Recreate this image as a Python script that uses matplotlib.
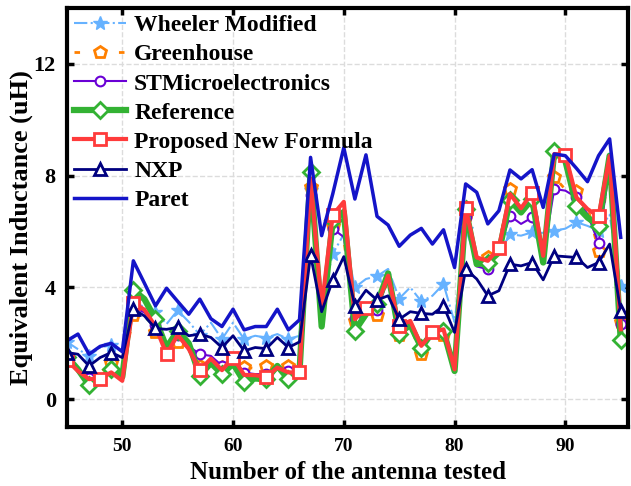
import numpy as np
import matplotlib
matplotlib.use('Agg')
import matplotlib.pyplot as plt

plt.rcParams['font.family'] = ['Liberation Serif', 'DejaVu Serif']
plt.rcParams['font.weight'] = 'bold'

# antenna numbers 45..95
antenna = list(range(45, 96))

wheeler = [2.05, 1.79, 1.55, 1.85, 1.93, 1.73, 3.47, 3.3, 3.13, 2.69, 3.18, 2.77, 2.3, 2.74, 2.15, 2.74,
           2.15, 2.27, 2.2, 2.33, 2.15, 2.27, 7.5, 3.5, 5.2, 5.9, 4.0, 4.3, 4.4, 4.66, 3.6, 4.0,
           3.5, 3.7, 4.12, 2.76, 6.1, 4.9, 4.8, 5.2, 5.9, 5.85, 5.97, 5.95, 6.03, 6.1, 6.33, 6.2,
           6.03, 6.6, 4.06]
greenhouse = [1.5, 1.1, 0.8, 0.95, 1.28, 0.85, 3.0, 2.9, 2.4, 1.9, 2.05, 1.85, 1.2, 1.5, 1.15, 1.55,
              1.15, 1.1, 1.2, 1.25, 1.2, 1.1, 7.6, 3.2, 6.2, 5.7, 2.8, 3.2, 3.0, 4.3, 2.3, 2.6,
              1.61, 2.3, 2.3, 1.2, 6.6, 4.85, 5.1, 5.5, 7.52, 6.95, 7.3, 5.2, 7.95, 7.5, 7.45, 6.9,
              5.3, 8.5, 2.76]
stmicro = [1.45, 1.05, 0.75, 0.8, 1.1, 0.75, 3.3, 3.1, 2.65, 1.9, 2.3, 1.9, 1.61, 1.55, 1.2, 1.45,
           0.95, 0.9, 0.9, 1.15, 1.0, 1.0, 7.3, 3.1, 6.1, 5.8, 2.9, 3.3, 3.2, 4.3, 2.5, 2.7,
           1.9, 2.35, 2.4, 1.1, 6.5, 4.75, 4.65, 5.3, 6.56, 6.27, 6.5, 5.08, 7.52, 7.46, 7.22, 6.62,
           5.58, 8.3, 2.7]
reference = [1.52, 1.07, 0.5, 0.72, 1.07, 0.8, 3.9, 3.58, 2.86, 1.85, 2.45, 2.0, 0.84, 1.3, 0.9, 1.27,
             0.63, 0.74, 0.72, 1.19, 0.72, 0.96, 8.14, 2.6, 6.4, 6.7, 2.45, 3.04, 3.4, 4.5, 2.35, 2.66,
             1.85, 2.39, 2.45, 1.01, 6.8, 4.83, 4.89, 5.25, 7.13, 6.68, 7.16, 4.89, 8.86, 8.53, 6.92, 6.5,
             6.21, 8.71, 2.12]
proposed = [1.4, 1.01, 0.72, 0.74, 0.96, 0.66, 3.45, 3.2, 2.6, 1.61, 2.3, 1.8, 1.04, 1.45, 1.04, 1.49,
            0.87, 0.86, 0.8, 1.13, 0.96, 0.96, 7.9, 3.3, 6.59, 7.06, 2.86, 3.28, 3.34, 4.42, 2.62, 2.8,
            1.91, 2.39, 2.5, 1.07, 6.83, 5.07, 4.95, 5.41, 7.34, 6.83, 7.38, 5.13, 8.77, 8.74, 7.22, 6.8,
            6.54, 8.7, 2.5]
nxp = [1.67, 1.61, 1.19, 1.49, 1.67, 1.49, 3.22, 2.98, 2.53, 2.5, 2.57, 2.27, 2.33, 2.21, 1.85, 2.27,
       1.73, 1.85, 1.81, 2.21, 1.85, 2.05, 5.16, 3.13, 4.26, 5.1, 3.34, 3.9, 3.55, 3.7, 2.86, 3.13,
       3.07, 3.04, 3.34, 2.39, 4.65, 4.3, 3.7, 3.88, 4.83, 4.77, 4.89, 4.27, 5.13, 5.1, 5.07, 4.71,
       4.89, 5.55, 3.16]
paret = [2.09, 2.33, 1.61, 1.89, 2.0, 1.7, 4.95, 4.15, 3.34, 3.97, 3.5, 3.04, 3.58, 2.88, 2.6, 3.22,
         2.48, 2.6, 2.6, 3.22, 2.48, 2.84, 8.65, 5.85, 7.34, 9.0, 7.16, 8.74, 6.54, 6.23, 5.47, 5.87,
         6.11, 5.55, 6.06, 4.71, 7.7, 7.4, 6.27, 6.74, 8.2, 7.88, 8.21, 6.86, 8.77, 8.71, 8.26, 7.78,
         8.71, 9.31, 5.79]

fig, ax = plt.subplots(figsize=(6.31, 4.86), dpi=100)
fig.subplots_adjust(left=0.106, right=0.996, bottom=0.121, top=0.984)

ax.plot(antenna, wheeler, color='#66b2ff', lw=1.5, ls='-.', marker='*', ms=10,
        markevery=2, label='Wheeler Modified')
ax.plot(antenna, greenhouse, color='#ff8000', lw=2, ls=(0, (2, 6)), marker='p', ms=9,
        mfc='white', mew=2, markevery=2, label='Greenhouse')
ax.plot(antenna, stmicro, color='#6a00d5', lw=1.5, marker='o', ms=7,
        mfc='white', mew=1.5, markevery=2, label='STMicroelectronics')
ax.plot(antenna, reference, color='#33b233', lw=4.5, marker='D', ms=8,
        mfc='white', mew=2, markevery=2, label='Reference')
ax.plot(antenna, proposed, color='#ff3b3b', lw=3, marker='s', ms=8,
        mfc='white', mew=2, markevery=3, label='Proposed New Formula')
ax.plot(antenna, nxp, color='#000080', lw=2, marker='^', ms=9,
        mfc='white', mew=2, markevery=2, label='NXP')
ax.plot(antenna, paret, color='#1414c8', lw=2.5, label='Paret')

ax.set_xlim(45, 95.7)
ax.set_ylim(-1, 14)
ax.set_xticks([50, 60, 70, 80, 90])
ax.set_yticks([0, 4, 8, 12])
ax.grid(True, color='#dcdcdc', ls='--', lw=1)
ax.tick_params(direction='in', top=True, right=True, length=5, width=2.5, pad=8)
ax.tick_params(axis='x', labelsize=14)
ax.tick_params(axis='y', labelsize=16)
for s in ax.spines.values():
    s.set_linewidth(3)

ax.set_xlabel('Number of the antenna tested', fontsize=18, fontweight='bold', labelpad=4)
ax.set_ylabel('Equivalent Inductance (uH)', fontsize=19, fontweight='bold')
ax.yaxis.set_label_coords(-0.06, 0.475)

ax.legend(loc='upper left', frameon=False, handlelength=2.2,
          handletextpad=0.35, labelspacing=0.32, borderaxespad=0.1, borderpad=0.2,
          prop={'weight': 'bold', 'size': 17})

fig.savefig('out.png', dpi=100)
